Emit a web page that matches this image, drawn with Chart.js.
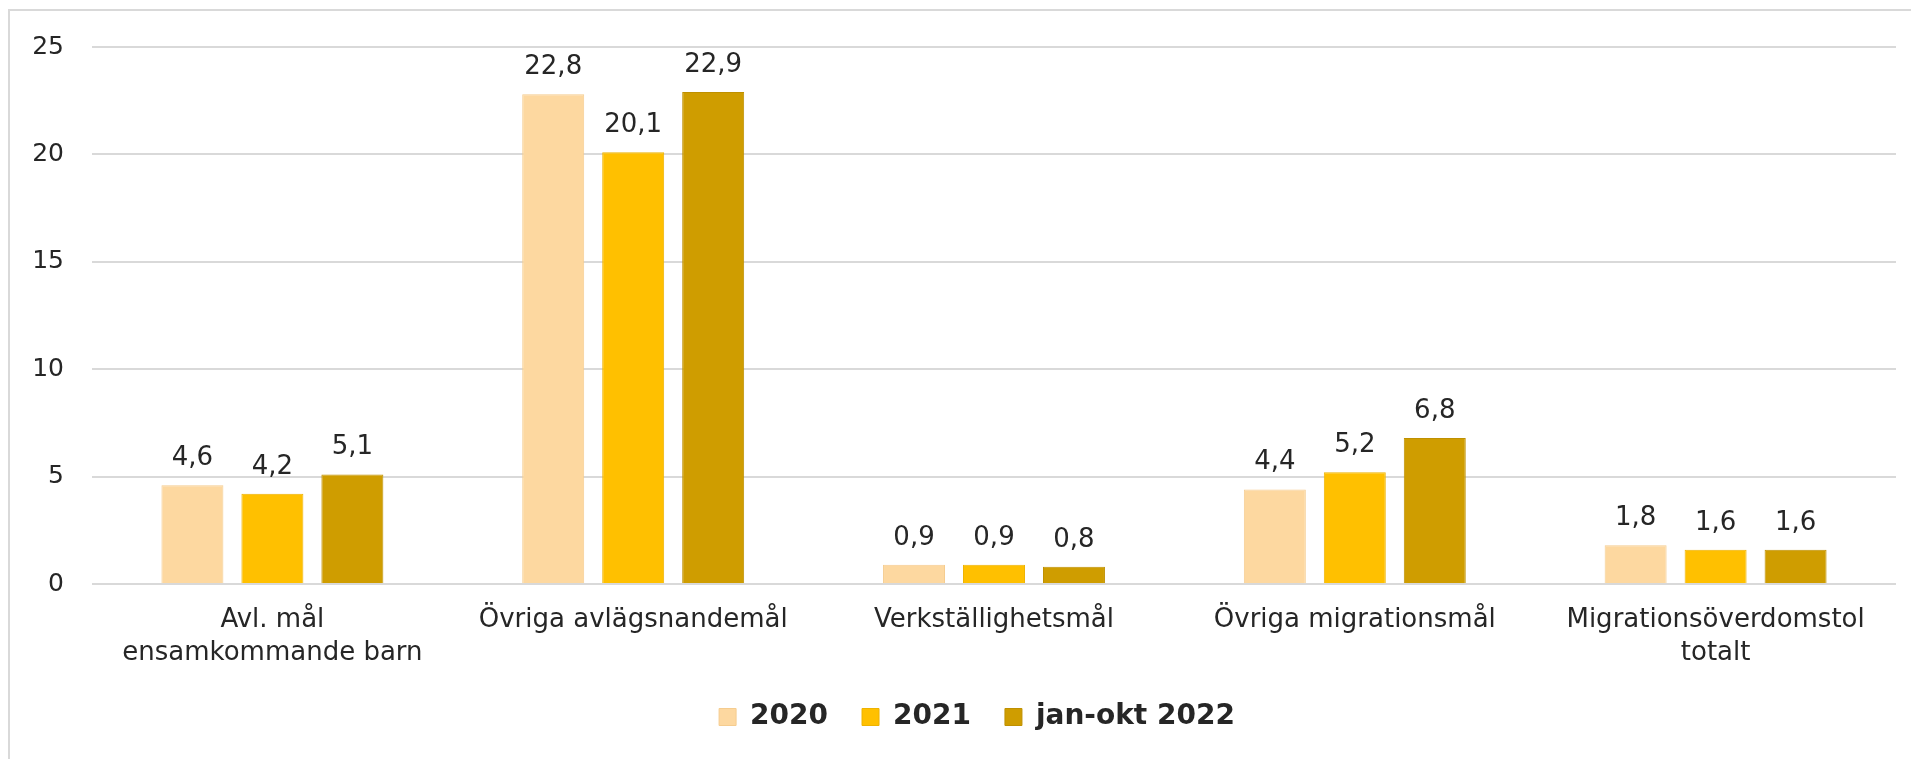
<!DOCTYPE html>
<html>
<head>
<meta charset="utf-8">
<script src="https://cdn.jsdelivr.net/npm/chart.js@4/dist/chart.umd.min.js"></script>
<style>
  html, body { margin: 0; padding: 0; background: #fff; overflow: hidden; }
  #frame { position: absolute; left: 8px; top: 9px; width: 2000px; height: 2000px;
           border: 2px solid #d9d9d9; }
  #wrap { position: absolute; left: 0; top: 0; width: 1911px; height: 759px; }
</style>
</head>
<body>
<div id="frame"></div>
<div id="wrap"><canvas id="chart"></canvas></div>
<script>
// Målkategorier och värden per år
const CATEGORIES = [
    ['Avl. mål', 'ensamkommande barn'],
    'Övriga avlägsnandemål',
    'Verkställighetsmål',
    'Övriga migrationsmål',
    ['Migrationsöverdomstol', 'totalt'],
];
const SERIES_NAMES = ['2020', '2021', 'jan-okt 2022'];
const VALUES_2020  = [4.6, 22.8, 0.9, 4.4, 1.8];
const VALUES_2021  = [4.2, 20.1, 0.9, 5.2, 1.6];
const VALUES_2022  = [5.1, 22.9, 0.8, 6.8, 1.6];
const Y_TICKS      = [0, 5, 10, 15, 20, 25];

const FILLS   = ['#fdd8a0', '#ffc000', '#cf9d00'];
const BORDERS = ['#f5cc8f', '#eeb300', '#bf9000'];
const FONT    = "'DejaVu Sans', sans-serif";
const TEXT    = '#262626';

const fmt = v => v.toFixed(1).replace('.', ',');

// etiketter ovanför staplarna
const valueLabels = {
    id: 'valueLabels',
    afterDatasetsDraw(chart) {
        const ctx = chart.ctx;
        ctx.save();
        ctx.font = '26px ' + FONT;
        ctx.fillStyle = TEXT;
        ctx.textAlign = 'center';
        ctx.textBaseline = 'alphabetic';
        chart.data.datasets.forEach((ds, i) => {
            chart.getDatasetMeta(i).data.forEach((bar, j) => {
                ctx.fillText(fmt(ds.data[j]), bar.x, bar.y - 20);
            });
        });
        ctx.restore();
    },
};

// legenden sitter lite till höger om mitten i originalet
const legendShift = {
    id: 'legendShift',
    afterLayout(chart) {
        if (chart.legend) { chart.legend.left += 13; chart.legend.right += 13; }
    },
};

const seriesData = [VALUES_2020, VALUES_2021, VALUES_2022];

new Chart(document.getElementById('chart'), {
    type: 'bar',
    data: {
        labels: CATEGORIES,
        datasets: SERIES_NAMES.map((name, i) => ({
            label: name,
            data: seriesData[i],
            backgroundColor: FILLS[i],
            borderColor: BORDERS[i],
            borderWidth: 1,
            categoryPercentage: 0.665,
            barPercentage: 0.775,
        })),
    },
    options: {
        responsive: true,
        maintainAspectRatio: false,
        animation: false,
        layout: { padding: { left: 32, right: 15, top: 47, bottom: 18 } },
        plugins: {
            tooltip: { enabled: false },
            legend: {
                position: 'bottom',
                labels: {
                    font: { family: FONT, size: 28, weight: 'bold' },
                    color: TEXT,
                    boxWidth: 17,
                    boxHeight: 17,
                    padding: 34,
                },
            },
        },
        scales: {
            x: {
                afterFit: s => { s.height = 85; },
                grid: { display: false, drawTicks: false },
                border: { display: false },
                ticks: {
                    font: { family: FONT, size: 26, lineHeight: 1.3 },
                    color: TEXT,
                    padding: 19,
                    maxRotation: 0,
                    autoSkip: false,
                },
            },
            y: {
                min: 0,
                max: 25,
                afterFit: s => { s.width = 60; },
                afterBuildTicks: s => { s.ticks = Y_TICKS.map(v => ({ value: v })); },
                grid: { color: '#d9d9d9', lineWidth: 2, drawTicks: false },
                border: { display: false },
                ticks: {
                    font: { family: FONT, size: 25 },
                    color: TEXT,
                    padding: 28,
                },
            },
        },
    },
    plugins: [valueLabels, legendShift],
});
</script>
</body>
</html>
